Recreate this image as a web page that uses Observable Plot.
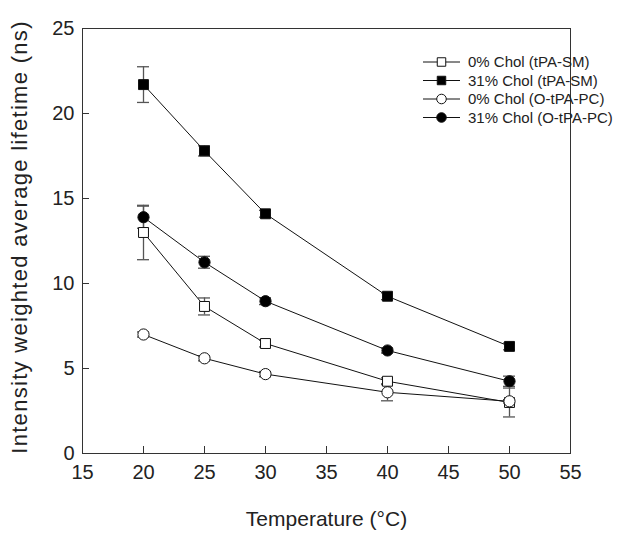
<!DOCTYPE html>
<html>
<head>
<meta charset="utf-8">
<script src="https://cdn.jsdelivr.net/npm/d3@7"></script>
<script src="https://cdn.jsdelivr.net/npm/@observablehq/plot@0.6"></script>
<style>
  html, body { margin: 0; padding: 0; background: #fff; }
  #wrap { position: relative; width: 644px; height: 536px; font-family: "Liberation Sans", Arial, sans-serif; }
  #legend { position: absolute; left: 0; top: 0; pointer-events: none; }
  .ytitle text { letter-spacing: 1.3px; }
</style>
</head>
<body>
<div id="wrap"></div>
<script>
// ---- data ----
const temperatures = [20, 25, 30, 40, 50];
const seriesNames = ["0% Chol (tPA-SM)", "31% Chol (tPA-SM)", "0% Chol (O-tPA-PC)", "31% Chol (O-tPA-PC)"];
const chol0SM   = [13.0, 8.65, 6.47, 4.25, 3.0];
const chol31SM  = [21.7, 17.8, 14.1, 9.25, 6.3];
const chol0PC   = [7.0, 5.6, 4.67, 3.6, 3.07];
const chol31PC  = [13.9, 11.25, 8.96, 6.06, 4.25];
const err0SM    = [1.6, 0.5, 0.2, 0.2, 0.85];
const err31SM   = [1.05, 0.3, 0.2, 0.2, 0.2];
const err0PC    = [0.15, 0.15, 0.15, 0.5, 0.1];
const err31PC   = [0.65, 0.35, 0.2, 0.15, 0.3];
const xTicks = [15, 20, 25, 30, 35, 40, 45, 50, 55];
const yTicks = [0, 5, 10, 15, 20, 25];
const xTitle = "Temperature (°C)";
const yTitle = "Intensity weighted average lifetime (ns)";

const seriesValues = [chol0SM, chol31SM, chol0PC, chol31PC];
const seriesErrors = [err0SM, err31SM, err0PC, err31PC];
const seriesSymbol = ["square", "square", "circle", "circle"];
const seriesFill = ["white", "black", "white", "black"];

const rows = [];
seriesNames.forEach((name, s) => {
  temperatures.forEach((t, i) => {
    rows.push({series: name, t, v: seriesValues[s][i], lo: seriesValues[s][i] - seriesErrors[s][i], hi: seriesValues[s][i] + seriesErrors[s][i], symbol: seriesSymbol[s], fill: seriesFill[s]});
  });
});
const squares = rows.filter(d => d.symbol === "square");
const circles = rows.filter(d => d.symbol === "circle");

const font = "Liberation Sans, Arial, sans-serif";

const chart = Plot.plot({
  width: 644,
  height: 536,
  marginLeft: 82,
  marginRight: 74,
  marginTop: 28,
  marginBottom: 83,
  style: {fontFamily: font, background: "white", color: "#222"},
  x: {domain: [15, 55]},
  y: {domain: [0, 25]},
  marks: [
    Plot.axisX({ticks: xTicks, tickSize: 0, tickPadding: 11, fontSize: 20, label: null, tickFormat: d => d}),
    Plot.axisY({ticks: yTicks, tickSize: 0, tickPadding: 8, fontSize: 20, label: null, tickFormat: d => d}),
    // inward ticks
    Plot.ruleX(xTicks, {x: d => d, y1: 0, y2: 0, insetTop: -7, stroke: "#333"}),
    Plot.ruleY(yTicks, {y: d => d, x1: 15, x2: 15, insetRight: -7, stroke: "#333"}),
    Plot.frame({stroke: "#333"}),
    // error bars
    Plot.ruleX(rows, {x: "t", y1: "lo", y2: "hi", stroke: "#555", strokeWidth: 1.3}),
    Plot.ruleY(rows, {y: "lo", x1: "t", x2: "t", insetLeft: -6, insetRight: -6, stroke: "#555", strokeWidth: 1.3}),
    Plot.ruleY(rows, {y: "hi", x1: "t", x2: "t", insetLeft: -6, insetRight: -6, stroke: "#555", strokeWidth: 1.3}),
    // lines
    Plot.line(rows, {x: "t", y: "v", z: "series", stroke: "#111", strokeWidth: 1}),
    // markers
    Plot.dot(squares, {x: "t", y: "v", symbol: "square", r: 5.6, fill: "fill", stroke: "#111", strokeWidth: 1}),
    Plot.dot(circles, {x: "t", y: "v", symbol: "circle", r: 5.6, fill: "fill", stroke: "#111", strokeWidth: 1}),
    // titles
    Plot.text([xTitle], {text: d => d, frameAnchor: "bottom", textAnchor: "middle", dy: 72, fontSize: 21, fill: "#222"}),
    Plot.text([yTitle], {text: d => d, frameAnchor: "left", textAnchor: "middle", rotate: -90, dx: -63, dy: -4, fontSize: 22, fill: "#222", className: "ytitle"})
  ]
});

const wrap = document.getElementById("wrap");
wrap.appendChild(chart);

// legend overlay
const legend = d3.select(wrap).append("svg")
  .attr("id", "legend").attr("width", 644).attr("height", 536);
const lx0 = 423, lx1 = 460, lxm = 441.5, ltx = 468, ly0 = 62, ldy = 18.5;
seriesNames.forEach((name, s) => {
  const g = legend.append("g").attr("transform", `translate(0,${ly0 + s * ldy})`);
  g.append("line").attr("x1", lx0).attr("x2", lx1).attr("y1", 0).attr("y2", 0).attr("stroke", "#111");
  g.append("path")
    .attr("d", d3.symbol(seriesSymbol[s] === "square" ? d3.symbolSquare : d3.symbolCircle, 72)())
    .attr("transform", `translate(${lxm},0)`)
    .attr("fill", seriesFill[s]).attr("stroke", "#111");
  g.append("text").attr("x", ltx).attr("y", 0).attr("dy", "0.35em")
    .attr("font-size", 15).attr("font-family", font).attr("fill", "#222").text(name);
});
</script>
</body>
</html>
